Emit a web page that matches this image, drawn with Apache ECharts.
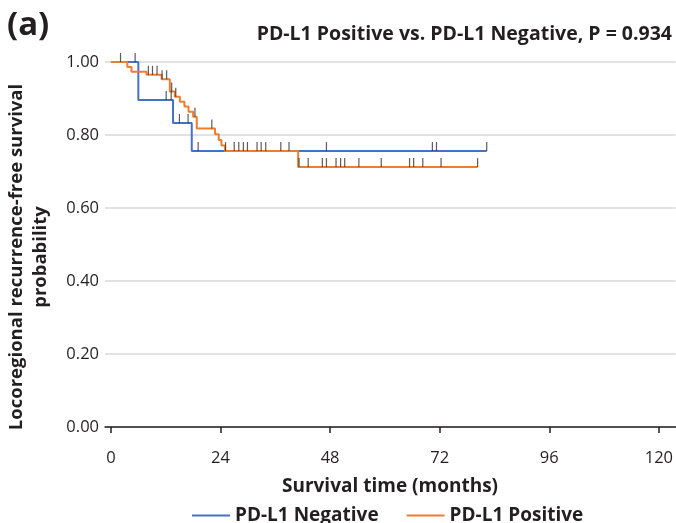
<!DOCTYPE html>
<html>
<head>
<meta charset="utf-8">
<script src="https://cdn.jsdelivr.net/npm/echarts@6/dist/echarts.min.js"></script>
<style>
  html, body { margin: 0; padding: 0; background: #fff; }
  #main { width: 676px; height: 523px; }
</style>
</head>
<body>
<div id="main"></div>
<script>
// Kaplan-Meier steps
var xTicks = [0, 24, 48, 72, 96, 120];

var negTimes = [0, 6.0, 13.6, 17.7, 82.3];
var negSurv = [1.0, 0.896, 0.833, 0.756, 0.756];
var negCensor = [5.3, 12.1, 13.2, 15.0, 16.9, 19.1, 47.2, 70.4, 71.3, 82.3];

var posTimes = [0, 3.6, 4.5, 7.8, 11.1, 12.9, 14.0, 15.1, 16.1, 17.0, 18.0, 18.8, 22.8, 23.6, 24.2, 25.0, 41.0, 80.3];
var posSurv = [1.0, 0.986, 0.973, 0.965, 0.953, 0.919, 0.905, 0.891, 0.878, 0.864, 0.850, 0.818, 0.802, 0.786, 0.771, 0.756, 0.712, 0.712];
var posCensor = [2.1, 8.2, 9.1, 10.1, 11.2, 12.2, 13.3, 14.2, 18.4, 22.1, 25.1, 27.0, 28.0, 29.0, 29.9, 32.0, 32.9, 33.9, 37.2, 39.0,
  41.2, 43.2, 46.3, 47.2, 49.3, 50.3, 51.2, 54.3, 59.2, 65.4, 66.3, 68.3, 72.3, 80.3];

var blue = '#4472c4';
var orange = '#ed7d31';
var font = '"Open Sans"';
var ink = '#231f20';

function pairs(times, surv) {
  return times.map(function (t, i) { return [t, surv[i]]; });
}
// censor mark sits on the curve level at that time
function censorPoints(times, surv, cens) {
  return cens.map(function (c) {
    var s = surv[0];
    for (var i = 0; i < times.length; i++) {
      if (times[i] <= c) s = surv[i];
    }
    return [c, s];
  });
}

var chart = echarts.init(document.getElementById('main'));
chart.setOption({
  animation: false,
  textStyle: { fontFamily: font },
  grid: { left: 105, right: 0, top: 62, bottom: 96 },
  graphic: [
    { type: 'text', left: 7, top: 9, style: { text: '(a)', font: 'bold 33px ' + font, fill: ink } },
    { type: 'text', right: 4, top: 24, style: { text: 'PD-L1 Positive vs. PD-L1 Negative, P = 0.934', font: 'bold 19.5px ' + font, fill: ink } },
    { type: 'text', x: 17, y: 257, rotation: Math.PI / 2, style: { text: 'Locoregional recurrence-free survival', font: 'bold 18.5px ' + font, fill: ink, align: 'center', verticalAlign: 'middle' } },
    { type: 'text', x: 41, y: 257, rotation: Math.PI / 2, style: { text: 'probability', font: 'bold 18.5px ' + font, fill: ink, align: 'center', verticalAlign: 'middle' } },
    { type: 'text', x: 390, y: 487, style: { text: 'Survival time (months)', font: 'bold 19px ' + font, fill: ink, align: 'center', verticalAlign: 'middle' } }
  ],
  legend: {
    left: 192,
    top: 506,
    padding: 0,
    icon: 'rect',
    itemWidth: 38,
    itemHeight: 2,
    itemGap: 28,
    textStyle: { fontFamily: font, fontWeight: 'bold', fontSize: 19, color: ink },
    data: ['PD-L1 Negative', 'PD-L1 Positive']
  },
  xAxis: {
    type: 'value',
    min: -1.3,
    max: 123.7,
    offset: 9,
    splitLine: { show: false },
    axisLine: { lineStyle: { color: ink, width: 1.5 } },
    axisTick: { show: true, length: 6, lineStyle: { color: ink, width: 1.5 }, customValues: xTicks },
    axisLabel: { customValues: xTicks, fontSize: 16.5, color: ink, margin: 14 }
  },
  yAxis: {
    type: 'value',
    min: 0,
    max: 1,
    interval: 0.2,
    axisLine: { show: false },
    axisTick: { show: false },
    splitLine: { lineStyle: { color: '#d9d9d9', width: 1.5 } },
    axisLabel: {
      fontSize: 16.5, color: ink, margin: 6,
      formatter: function (v) { return v.toFixed(2); }
    }
  },
  series: [
    {
      name: 'PD-L1 Negative', type: 'line', step: 'end', showSymbol: false,
      data: pairs(negTimes, negSurv),
      lineStyle: { color: blue, width: 2 }, itemStyle: { color: blue }, z: 2
    },
    {
      name: 'PD-L1 Positive', type: 'line', step: 'end', showSymbol: false,
      data: pairs(posTimes, posSurv),
      lineStyle: { color: orange, width: 2 }, itemStyle: { color: orange }, z: 3
    },
    {
      name: 'negCensor', type: 'scatter', symbol: 'rect', symbolSize: [1.2, 9], symbolOffset: [0, -4.5],
      data: censorPoints(negTimes, negSurv, negCensor), itemStyle: { color: '#333' }, z: 4, silent: true
    },
    {
      name: 'posCensor', type: 'scatter', symbol: 'rect', symbolSize: [1.2, 9], symbolOffset: [0, -4.5],
      data: censorPoints(posTimes, posSurv, posCensor), itemStyle: { color: '#333' }, z: 4, silent: true
    }
  ]
});
</script>
</body>
</html>
